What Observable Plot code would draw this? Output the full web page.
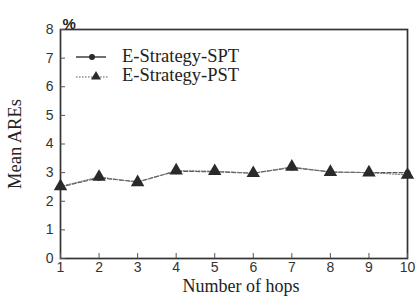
<!DOCTYPE html>
<html>
<head>
<meta charset="utf-8">
<script src="https://cdn.jsdelivr.net/npm/d3@7"></script>
<script src="https://cdn.jsdelivr.net/npm/@observablehq/plot@0.6"></script>
<style>
  html, body { margin: 0; padding: 0; background: #fff; }
  #wrap { position: relative; width: 416px; height: 297px; }
  #legend { position: absolute; left: 74px; top: 47px; font-family: "Liberation Serif", "DejaVu Serif", serif; font-size: 18.5px; color: #222; }
  #legend .row { display: flex; align-items: center; height: 19px; }
  #legend svg { margin-right: 12px; }
</style>
</head>
<body>
<div id="wrap"></div>
<script>
const hops = [1, 2, 3, 4, 5, 6, 7, 8, 9, 10];
const sptValues = [2.50, 2.82, 2.68, 3.05, 3.03, 2.98, 3.18, 3.02, 3.00, 3.00];
const pstValues = [2.52, 2.85, 2.66, 3.07, 3.05, 2.98, 3.20, 3.02, 3.00, 2.92];
const seriesNames = ["E-Strategy-SPT", "E-Strategy-PST"];
const yTicks = [0, 1, 2, 3, 4, 5, 6, 7, 8];
const xTicks = hops;

const spt = hops.map((h, i) => ({hop: h, v: sptValues[i]}));
const pst = hops.map((h, i) => ({hop: h, v: pstValues[i]}));

const ink = "#2a2a2a";
const chart = Plot.plot({
  width: 416,
  height: 297,
  marginLeft: 60,
  marginRight: 9,
  marginTop: 29,
  marginBottom: 39,
  style: {fontFamily: "'Liberation Sans', Arial, sans-serif", fontSize: "14px", color: "#333", background: "#fff"},
  x: {domain: [1, 10], ticks: xTicks},
  y: {domain: [0, 8], ticks: yTicks},
  marks: [
    Plot.frame({stroke: "#333", strokeWidth: 1.7}),
    Plot.axisY(yTicks, {tickSize: -5, tickPadding: 12, label: null, fontSize: 14, stroke: "#555"}),
    Plot.axisX(xTicks, {tickSize: -5, tickPadding: 9, label: null, fontSize: 14, stroke: "#555"}),
    Plot.line(spt, {x: "hop", y: "v", stroke: "#555", strokeWidth: 1.2, strokeDasharray: "4,2"}),
    Plot.line(pst, {x: "hop", y: "v", stroke: "#777", strokeWidth: 1, strokeDasharray: "1.5,1.5"}),
    Plot.dot(spt, {x: "hop", y: "v", r: 3, fill: ink, symbol: "circle"}),
    Plot.dot(pst, {x: "hop", y: "v", r: 5, fill: ink, symbol: "triangle"}),
    Plot.text(["%"], {frameAnchor: "top-left", textAnchor: "start", dx: 2, dy: -11, fontWeight: "bold", fontSize: 15, fill: "#222"}),
    Plot.text(["Mean AREs"], {frameAnchor: "left", textAnchor: "middle", dx: -45, rotate: -90, fontFamily: "'Liberation Serif', serif", fontSize: 18.5, fill: "#222"}),
    Plot.text(["Number of hops"], {frameAnchor: "bottom", textAnchor: "middle", dx: 7, dy: 33, fontFamily: "'Liberation Serif', serif", fontSize: 18, fill: "#222"})
  ]
});

const wrap = document.getElementById("wrap");
wrap.appendChild(chart);

const legend = document.createElement("div");
legend.id = "legend";
legend.innerHTML = `
  <div class="row"><svg width="36" height="12"><line x1="2" y1="6" x2="32" y2="6" stroke="#333" stroke-width="1.4"/><circle cx="18" cy="6" r="3" fill="${ink}"/></svg><span>${seriesNames[0]}</span></div>
  <div class="row"><svg width="36" height="12"><line x1="2" y1="7" x2="34" y2="7" stroke="#555" stroke-width="1.2" stroke-dasharray="1.5,1.5"/><path d="M22,1 L27,9.5 L17,9.5 Z" fill="${ink}"/></svg><span>${seriesNames[1]}</span></div>`;
wrap.appendChild(legend);
</script>
</body>
</html>
